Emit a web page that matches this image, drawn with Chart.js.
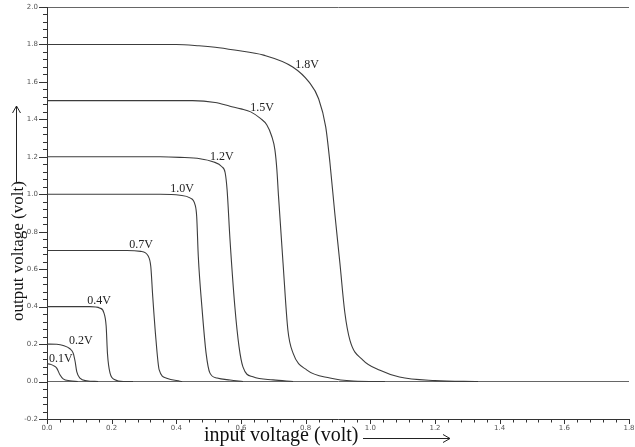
<!DOCTYPE html>
<html><head><meta charset="utf-8">
<script src="https://cdn.jsdelivr.net/npm/chart.js@4.4.1/dist/chart.umd.min.js"></script>
<style>html,body{margin:0;padding:0;background:#fff}#wrap{width:635px;height:447px;position:relative}</style>
</head><body><div id="wrap"><canvas id="c" width="635" height="447"></canvas></div>
<script>
// ---- data ----
const xTickLabels = ['0.0','0.2','0.4','0.6','0.8','1.0','1.2','1.4','1.6','1.8'];
const yTickLabels = ['-0.2','0.0','0.2','0.4','0.6','0.8','1.0','1.2','1.4','1.6','1.8','2.0'];
const seriesNames = ['0.1V','0.2V','0.4V','0.7V','1.0V','1.2V','1.5V','1.8V'];
const xTitle = 'input voltage (volt)';
const yTitle = 'output voltage (volt)';

const v01 = [[0,0.095],[0.01,0.092],[0.02,0.085],[0.03,0.072],[0.04,0.036],[0.05,0.014],[0.071,0.004],[0.095,0]];
const v02 = [[0,0.2],[0.03,0.199],[0.05,0.193],[0.071,0.175],[0.081,0.152],[0.087,0.107],[0.092,0.053],[0.102,0.018],[0.123,0.004],[0.158,0]];
const v04 = [[0,0.4],[0.133,0.4],[0.164,0.392],[0.176,0.367],[0.183,0.295],[0.187,0.15],[0.195,0.045],[0.21,0.01],[0.236,0],[0.266,0]];
const v07 = [[0,0.7],[0.247,0.7],[0.29,0.695],[0.313,0.67],[0.321,0.614],[0.327,0.454],[0.337,0.223],[0.347,0.062],[0.37,0.018],[0.411,0.002],[0.418,0]];
const v10 = [[0,1.0],[0.35,1.0],[0.411,0.995],[0.442,0.981],[0.458,0.944],[0.463,0.88],[0.468,0.666],[0.479,0.40],[0.492,0.152],[0.504,0.045],[0.526,0.019],[0.566,0.008],[0.606,0]];
const v12 = [[0,1.2],[0.35,1.2],[0.411,1.197],[0.473,1.19],[0.513,1.174],[0.541,1.147],[0.551,1.115],[0.557,1.024],[0.566,0.757],[0.581,0.399],[0.594,0.185],[0.606,0.078],[0.637,0.025],[0.699,0.009],[0.761,0]];
const v15 = [[0,1.5],[0.45,1.5],[0.52,1.49],[0.566,1.47],[0.60,1.456],[0.63,1.44],[0.66,1.405],[0.68,1.37],[0.695,1.31],[0.705,1.236],[0.711,1.13],[0.716,0.99],[0.73,0.633],[0.745,0.275],[0.761,0.152],[0.804,0.061],[0.875,0.019],[0.947,0.003],[1.045,0]];
const v18 = [[0,1.8],[0.40,1.8],[0.47,1.793],[0.52,1.785],[0.58,1.77],[0.67,1.743],[0.76,1.68],[0.81,1.6],[0.84,1.51],[0.862,1.36],[0.875,1.17],[0.89,0.9],[0.906,0.63],[0.921,0.37],[0.937,0.22],[0.977,0.115],[1.03,0.06],[1.09,0.024],[1.2,0.005],[1.333,0]];
const seriesData = [v01,v02,v04,v07,v10,v12,v15,v18];
// label anchors in data units (x, y)
const labelAnchors = [[0.043,0.122],[0.105,0.218],[0.161,0.431],[0.291,0.731],[0.418,1.029],[0.541,1.2],[0.665,1.462],[0.804,1.692]];

const deco = {
  id: 'deco',
  afterDraw(chart) {
    const {ctx, scales: {x, y}, chartArea: a} = chart;
    ctx.save();
    ctx.strokeStyle = '#333';
    ctx.lineWidth = 1;
    ctx.beginPath();
    for (let i = 0; i <= 45; i++) {
      const px = Math.round(x.getPixelForValue(i * 0.04)) + 0.5;
      const major = i % 5 === 0;
      ctx.moveTo(px, a.bottom);
      ctx.lineTo(px, a.bottom + (major ? 5 : 3.5));
    }
    for (let i = 0; i <= 55; i++) {
      const py = Math.round(y.getPixelForValue(-0.2 + i * 0.04)) + 0.5;
      const major = i % 5 === 0;
      ctx.moveTo(a.left, py);
      ctx.lineTo(a.left - (major ? 8 : 4), py);
    }
    ctx.stroke();

    // curve labels
    ctx.font = '12px "Liberation Serif"';
    ctx.fillStyle = '#222';
    ctx.textAlign = 'center';
    ctx.textBaseline = 'middle';
    seriesNames.forEach((n, i) => {
      ctx.fillText(n, x.getPixelForValue(labelAnchors[i][0]), y.getPixelForValue(labelAnchors[i][1]));
    });

    // axis titles
    ctx.fillStyle = '#111';
    ctx.font = '20px "Liberation Serif"';
    ctx.textAlign = 'left';
    ctx.textBaseline = 'alphabetic';
    ctx.fillText(xTitle, 204, 441);
    ctx.save();
    ctx.translate(19, 251);
    ctx.rotate(-Math.PI / 2);
    ctx.font = '17px "Liberation Serif"';
    ctx.textAlign = 'center';
    ctx.textBaseline = 'middle';
    ctx.fillText(yTitle, 0, 0);
    ctx.restore();

    // arrows
    ctx.strokeStyle = '#222';
    ctx.lineWidth = 1;
    ctx.beginPath();
    ctx.moveTo(363, 438.5); ctx.lineTo(450, 438.5);
    ctx.moveTo(443, 434.5); ctx.lineTo(450, 438.5); ctx.lineTo(443, 442.5);
    ctx.moveTo(16.5, 183); ctx.lineTo(16.5, 106);
    ctx.moveTo(12.5, 113); ctx.lineTo(16.5, 106); ctx.lineTo(20.5, 113);
    ctx.stroke();
    ctx.restore();
  }
};

const fmt = v => (Math.round(v * 10) / 10).toFixed(1);

new Chart(document.getElementById('c'), {
  type: 'line',
  data: {
    datasets: seriesData.map((d, i) => ({
      label: seriesNames[i],
      data: d.map(p => ({x: p[0], y: p[1]})),
      borderColor: '#3c3c3c',
      borderWidth: 1.1,
      pointRadius: 0,
      fill: false,
      cubicInterpolationMode: 'monotone'
    }))
  },
  options: {
    responsive: false,
    animation: false,
    devicePixelRatio: 1,
    layout: {padding: {top: 7, right: 6, left: 0, bottom: 0}},
    plugins: {legend: {display: false}, tooltip: {enabled: false}, title: {display: false}},
    scales: {
      x: {
        type: 'linear', min: 0, max: 1.8,
        afterFit: s => { s.height = 28; s.paddingLeft = 0; s.paddingRight = 0; },
        afterBuildTicks: s => { s.ticks = xTickLabels.map(t => ({value: parseFloat(t)})); },
        ticks: {
          autoSkip: false, maxRotation: 0, padding: 5,
          font: {family: 'DejaVu Sans', size: 7}, color: '#555',
          callback: v => fmt(v)
        },
        grid: {display: false, drawTicks: false},
        border: {display: true, color: '#333', width: 1}
      },
      y: {
        type: 'linear', min: -0.2, max: 2.0,
        afterFit: s => { s.width = 47; s.paddingTop = 0; s.paddingBottom = 0; },
        afterBuildTicks: s => { s.ticks = yTickLabels.map(t => ({value: parseFloat(t)})); },
        ticks: {
          autoSkip: false, padding: 9,
          font: {family: 'DejaVu Sans', size: 7}, color: '#555',
          callback: v => fmt(v)
        },
        grid: {
          drawTicks: false, drawOnChartArea: true, lineWidth: 1,
          color: c => (c.tick && (Math.abs(c.tick.value) < 1e-6 || Math.abs(c.tick.value - 2) < 1e-6)) ? '#666' : 'rgba(0,0,0,0)'
        },
        border: {display: true, color: '#333', width: 1}
      }
    }
  },
  plugins: [deco]
});
</script>
</body></html>
